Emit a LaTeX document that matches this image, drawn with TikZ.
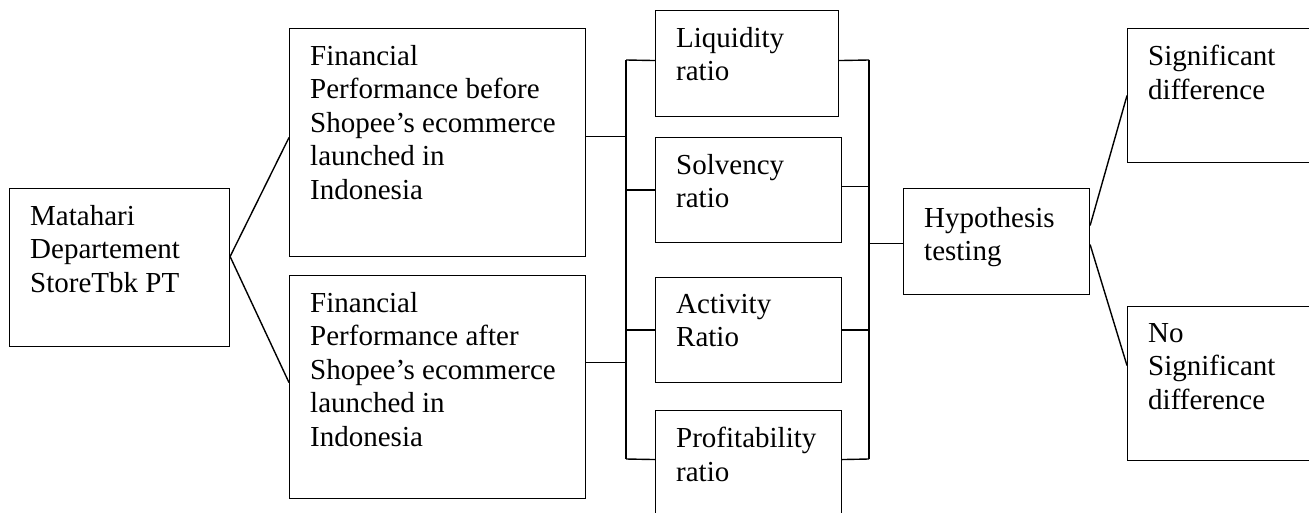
\documentclass[tikz,border=0pt]{standalone}
\usepackage{fontspec}
\setmainfont{Liberation Serif}
\begin{document}
\begin{tikzpicture}[x=1pt,y=-1pt,
  box/.style={draw, line width=1.1pt, inner sep=0pt, anchor=north west},
  txt/.style={anchor=north west, inner sep=0pt, align=left, font=\fontsize{29}{33.5}\selectfont},
  conn/.style={line width=1.4pt}]
\useasboundingbox (0,0) rectangle (1309,513);
\clip (0,0) rectangle (1309,513);
% boxes
\node[box, minimum width=220pt, minimum height=158pt] (mat) at (9,188) {};
\node[box, minimum width=296pt, minimum height=228pt] (fin1) at (289,28) {};
\node[box, minimum width=296pt, minimum height=223pt] (fin2) at (289,275) {};
\node[box, minimum width=183pt, minimum height=106pt] (liq) at (655,10) {};
\node[box, minimum width=186pt, minimum height=105pt] (sol) at (655,137) {};
\node[box, minimum width=186pt, minimum height=105pt] (act) at (655,277) {};
\node[box, minimum width=186pt, minimum height=150pt] (pro) at (655,410) {};
\node[box, minimum width=186pt, minimum height=106pt] (hyp) at (903,188) {};
\node[box, minimum width=213pt, minimum height=134pt] (sig) at (1127,28) {};
\node[box, minimum width=213pt, minimum height=154pt] (nosig) at (1127,306) {};
% texts
\node[txt] (matT) at (30,205) {Matahari\\Departement\\StoreTbk PT};
\node[txt] (fin1T) at (310,45) {Financial\\Performance before\\Shopee’s ecommerce\\launched in\\Indonesia};
\node[txt] (fin2T) at (310,292) {Financial\\Performance after\\Shopee’s ecommerce\\launched in\\Indonesia};
\node[txt] (liqT) at (676,27) {Liquidity\\ratio};
\node[txt] (solT) at (676,154) {Solvency\\ratio};
\node[txt] (actT) at (676,294) {Activity\\Ratio};
\node[txt] (proT) at (676,427) {Profitability\\ratio};
\node[txt] (hypT) at (924,207) {Hypothesis\\testing};
\node[txt] (sigT) at (1148,45) {Significant\\difference};
\node[txt] (nosigT) at (1148,323) {No\\Significant\\difference};
% connectors
\draw[conn] ([yshift=11pt]mat.east) -- ([yshift=5pt]fin1.west);
\draw[conn] ([yshift=11pt]mat.east) -- ([yshift=4.5pt]fin2.west);
\coordinate (lt) at (626,60);
\coordinate (lb) at (626,459);
\coordinate (rt) at (869,60);
\coordinate (rb) at (869,459);
\draw[conn] (lt) -- (lb);
\draw[conn] (rt) -- (rb);
\draw[conn] ([yshift=6pt]fin1.east) -- ++(41,0);
\draw[conn] ([yshift=24.5pt]fin2.east) -- ++(41,0);
\draw[conn] (lt) -- ([yshift=3pt]liq.west);
\draw[conn] (sol.west) -- ++(-29,0);
\draw[conn] (act.west) -- ++(-29,0);
\draw[conn] (lb) -- ([yshift=26pt]pro.west);
\draw[conn] ([yshift=3pt]liq.east) -- (rt);
\draw[conn] ([yshift=3.5pt]sol.east) -- ++(28,0);
\draw[conn] (act.east) -- ++(28,0);
\draw[conn] ([yshift=26pt]pro.east) -- (rb);
\draw[conn] ([yshift=-2pt]hyp.west) -- ++(-34,0);
\draw[conn] ([yshift=16pt]hyp.east) -- (sig.west);
\draw[conn] ([yshift=-3pt]hyp.east) -- ([yshift=18pt]nosig.west);
\end{tikzpicture}
\end{document}
